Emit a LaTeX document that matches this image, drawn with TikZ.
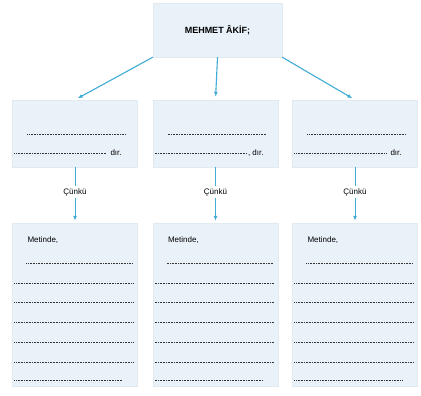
\documentclass[tikz,border=0pt]{standalone}
\usepackage{fontspec}
\setmainfont{Liberation Sans}
\usetikzlibrary{arrows.meta,calc}
\definecolor{kutumavi}{RGB}{234,242,249}
\definecolor{kutucizgi}{RGB}{226,234,241}
\definecolor{okmavi}{RGB}{62,172,212}
\tikzset{
  baslik/.style={rectangle, draw=kutucizgi, fill=kutumavi, minimum width=129pt, minimum height=54pt, font=\bfseries\fontsize{9}{11}\selectfont},
  neden/.style={rectangle, draw=kutucizgi, fill=kutumavi, minimum width=125pt, minimum height=67pt},
  metin/.style={rectangle, draw=kutucizgi, fill=kutumavi, minimum width=125pt, minimum height=163pt},
  etiket/.style={font=\fontsize{8}{9}\selectfont, inner sep=2pt},
  ok/.style={-{Latex[length=5pt,width=4pt]}, okmavi, line width=1.1pt},
  noktali/.style={gray!40!black, line width=0.6pt, dash pattern=on 0.7pt off 0.9pt}
}

\begin{document}
\begin{tikzpicture}[x=1pt, y=-1pt]
  \useasboundingbox (0,0) rectangle (421,396);
  % boxes
  \node[baslik] (mehmet) at (217.5,30) {MEHMET ÂKİF;};
  \node[neden] (neden1) at (75,133.5) {};
  \node[neden] (neden2) at (215.5,133.5) {};
  \node[neden] (neden3) at (355,133.5) {};
  \node[etiket] (cunku1) at (75,192) {Çünkü};
  \node[etiket] (cunku2) at (215.5,192) {Çünkü};
  \node[etiket] (cunku3) at (355,192) {Çünkü};
  \node[metin] (metin1) at (75,304.5) {};
  \node[metin] (metin2) at (215.5,304.5) {};
  \node[metin] (metin3) at (355,304.5) {};

  % arrows
  \draw[ok, shorten >=3pt] (mehmet.south west) -- (neden1.north);
  \draw[ok, shorten >=3pt] (mehmet.south) -- (neden2.north);
  \draw[ok, shorten >=3pt] (mehmet.south east) -- (neden3.north);
  \foreach \k in {1,2,3} {
    \draw[okmavi, line width=1pt] (neden\k) -- (cunku\k);
    \draw[ok, line width=1pt, shorten >=2pt] (cunku\k) -- (metin\k);
  }

  % dotted lines
  \foreach \k in {1,2,3} {
    \draw[noktali] ($(neden\k.north west)+(15,35)$) -- +(99,0);
    \draw[noktali] ($(neden\k.north west)+(2,54)$) -- +(92,0);
    \node[etiket, anchor=west] (metinde\k) at ($(metin\k.north west)+(13,17)$) {Metinde,};
    \draw[noktali] ($(metin\k.north west)+(14,40)$) -- +(107,0);
    \foreach \y in {60,79,99,119,139}
      \draw[noktali] ($(metin\k.north west)+(2,\y)$) -- +(119,0);
    \draw[noktali] ($(metin\k.north west)+(2,157)$) -- +(108,0);
  }
  \node[etiket, anchor=west] (dir1) at ($(neden1.north west)+(96,53)$) {dır.};
  \node[etiket, anchor=west] (dir2) at ($(neden2.north west)+(93,53)$) {, dır.};
  \node[etiket, anchor=west] (dir3) at ($(neden3.north west)+(96,53)$) {dır.};
\end{tikzpicture}
\end{document}
